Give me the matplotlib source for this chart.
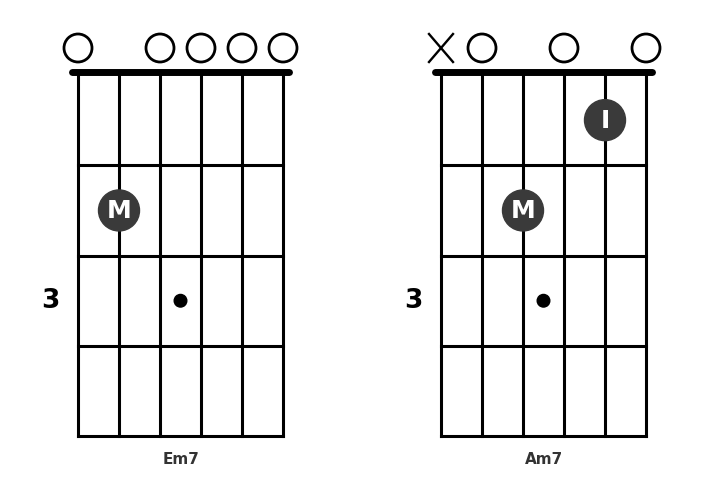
import matplotlib
matplotlib.use("Agg")
import matplotlib.pyplot as plt
from matplotlib.patches import Circle

# ---- data ----
chord_names = ["Em7", "Am7"]
open_strings = [[0, 2, 3, 4, 5], [1, 3, 5]]
muted_strings = [[], [0]]
finger_strings = [[1], [4, 2]]
finger_frets = [[2], [1, 2]]
finger_labels = [["M"], ["I", "M"]]
fret_label = "3"
fret_label_pos = 3
inlay_fret = 3
n_strings = 6
n_frets = 4

# ---- layout ----
W, H = 725, 483
fig = plt.figure(figsize=(W / 100, H / 100), dpi=100)
ax = fig.add_axes([0, 0, 1, 1])
ax.set_xlim(0, W)
ax.set_ylim(H, 0)
ax.axis("off")

FONT = "DejaVu Sans"
x_origins = [78, 441]
s_gap = 41.0
y_top = 75.0
f_gap = 90.3
nut_y = 72
sym_y = 48
grid_lw = 2.2
dark = "#3a3a3a"

for ci, name in enumerate(chord_names):
    x0 = x_origins[ci]
    xs = [x0 + i * s_gap for i in range(n_strings)]
    x_end = xs[-1]
    y_end = y_top + n_frets * f_gap
    # strings
    for x in xs:
        ax.plot([x, x], [y_top, y_end], color="black", lw=grid_lw, solid_capstyle="projecting", zorder=1)
    # frets
    for f in range(1, n_frets + 1):
        y = y_top + f * f_gap
        ax.plot([x0, x_end], [y, y], color="black", lw=grid_lw, solid_capstyle="projecting", zorder=1)
    # nut
    ax.plot([x0 - 6, x_end + 6], [nut_y, nut_y], color="black", lw=5.0, solid_capstyle="round", zorder=2)
    # open strings
    for s in open_strings[ci]:
        ax.add_patch(Circle((xs[s], sym_y), 14, fill=False, ec="black", lw=2.0, zorder=3))
    # muted strings
    for s in muted_strings[ci]:
        d = 12
        ax.plot([xs[s] - d, xs[s] + d], [sym_y - 14, sym_y + 14], color="black", lw=1.7, zorder=3)
        ax.plot([xs[s] - d, xs[s] + d], [sym_y + 14, sym_y - 14], color="black", lw=1.7, zorder=3)
    # inlay dot
    cx = (xs[0] + xs[-1]) / 2
    cy = y_top + (inlay_fret - 0.5) * f_gap
    ax.add_patch(Circle((cx, cy), 6.3, color="black", zorder=3))
    # fret number
    ax.text(x0 - 27.5, cy, fret_label, ha="center", va="center", fontsize=19,
            fontweight="bold", family=FONT, color="black")
    # fingers
    for s, f, lab in zip(finger_strings[ci], finger_frets[ci], finger_labels[ci]):
        fy = y_top + (f - 0.5) * f_gap
        ax.add_patch(Circle((xs[s], fy), 20.5, color=dark, zorder=4))
        ax.text(xs[s], fy + 0.5, lab, ha="center", va="center", fontsize=18,
                fontweight="bold", family=FONT, color="white", zorder=5)
    # chord name
    ax.text(cx + 0.5, 459, name, ha="center", va="center", fontsize=11,
            fontweight="bold", family=FONT, color="#333333")

fig.savefig("out.png", dpi=100, facecolor="white")
